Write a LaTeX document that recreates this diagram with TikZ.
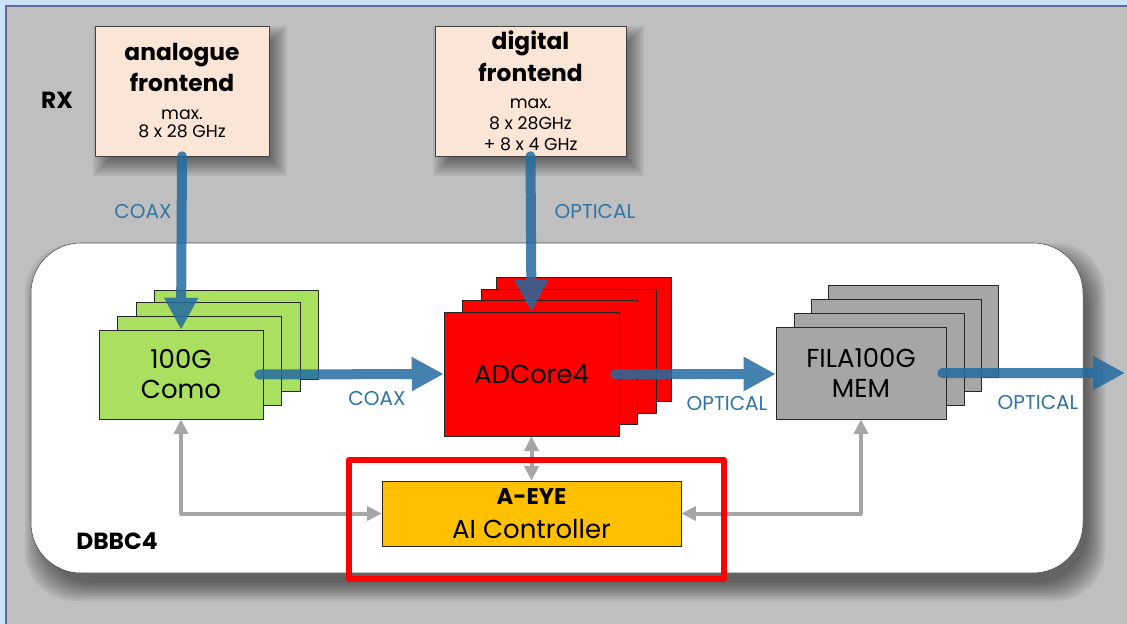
\documentclass[tikz,border=0pt]{standalone}
\usepackage{fontspec}
\setmainfont{Poppins}
\usetikzlibrary{arrows.meta}
\definecolor{frameblue}{RGB}{204,228,247}
\definecolor{pane}{RGB}{191,191,191}
\definecolor{peach}{RGB}{251,229,214}
\definecolor{lime}{RGB}{169,224,95}
\definecolor{memgrey}{RGB}{166,166,166}
\definecolor{amber}{RGB}{255,192,0}
\definecolor{linkblue}{RGB}{36,107,160}
\definecolor{tagblue}{RGB}{46,117,166}
\definecolor{ctrlgrey}{RGB}{166,166,166}
\newcommand{\headfont}{\bfseries\fontsize{17.5}{22.5}\selectfont}
\newcommand{\specfont}{\mdseries\fontsize{13}{15}\selectfont}
\newcommand{\softshadow}[5][]{%
  \foreach \i in {0,...,9}
    \fill[black,opacity=.06,#1] (#2+2*\i,#3+2*\i) rectangle (#4-2*\i,#5-2*\i);}
\begin{document}
\begin{tikzpicture}[x=0.75pt,y=-0.75pt,line join=round]
\tikzset{
  frontend/.style={draw=black!75,fill=peach,minimum height=97.5pt,inner sep=0pt,align=center},
  card/.style={draw=black!85,fill=#1,inner sep=0pt,align=center,font=\fontsize{19.5}{22.5}\selectfont},
  link/.style={draw=linkblue,line width=7.5pt,line cap=round,-{Triangle[length=24pt,width=24pt]}},
  ctrl/.style={draw=ctrlgrey,line width=3pt,{Triangle[length=11pt,width=10.5pt]}-{Triangle[length=11pt,width=10.5pt]}},
  tag/.style={text=tagblue,font=\fontsize{15}{17}\selectfont},
  title/.style={font=\headfont}
}
\useasboundingbox (0,0) rectangle (1127,624);
\fill[frameblue] (0,0) rectangle (1127,624);
\fill[pane] (6,6) rectangle (1127,624);
\draw[black!60!blue!60,line width=1pt] (6,624) -- (6,6) -- (1127,6);

\softshadow{93}{26}{287}{176}
\softshadow{433}{26}{644}{176}
\node[title] (rx) at (57,100) {RX};
\node[frontend,minimum width=130.5pt] (afe) at (182,91)
  {\headfont analogue\\[3.75pt]\headfont frontend\\[9pt]\specfont max.\\[1.5pt]\specfont 8 x 28 GHz};
\node[frontend,minimum width=143.25pt] (dfe) at (530.5,91)
  {\headfont digital\\[4.5pt]\headfont frontend\\[8.25pt]\specfont max.\\[3.75pt]\specfont 8 x 28GHz\\[3.75pt]\specfont + 8 x 4 GHz};

\softshadow[rounded corners=37.5pt]{25}{243}{1105}{601}
\draw[draw=black!70,fill=white,rounded corners=37.5pt] (31,243) rectangle (1083,573);
\node[title] (dbbc) at (117,541) {DBBC4};

\foreach \dx/\dy in {55/-40,37/-28,18/-14}
  \draw[draw=black!85,fill=lime] (99+\dx,330+\dy) rectangle (263+\dx,419+\dy);
\node[card=lime,minimum width=123pt,minimum height=66.75pt] (como) at (181,374.5) {100G\\Como};

\foreach \dx/\dy in {52/-35,37/-23,18/-12}
  \draw[draw=black!85,fill=red] (444+\dx,312+\dy) rectangle (619+\dx,436+\dy);
\node[card=red,minimum width=131.25pt,minimum height=93pt] (adc) at (531.5,374) {ADCore4};

\foreach \dx/\dy in {52/-42,35/-28,18/-14}
  \draw[draw=black!85,fill=memgrey] (776+\dx,327+\dy) rectangle (946+\dx,419+\dy);
\node[card=memgrey,minimum width=127.5pt,minimum height=69pt] (fila) at (861,373) {FILA100G\\MEM};

\node[card=amber,minimum width=224.25pt,minimum height=48.75pt] (aeye) at (531.5,513.5)
  {\bfseries\fontsize{17}{19}\selectfont A-EYE\\[3pt]\fontsize{19.5}{21}\selectfont AI Controller};

\coordinate (out) at (1125,373);
\begin{scope}[transparency group,opacity=.85]
\draw[link] (afe.south) -- (como.north);
\draw[link] (dfe.south) -- (adc.north);
\draw[link] ([xshift=-3pt]como.east) -- (adc.west);
\draw[link] ([xshift=-3pt]adc.east) -- (fila.west |- adc.east);
\draw[link] ([xshift=-3pt]fila.east) -- (out);
\end{scope}

\node[tag] (t1) at (143,212) {COAX};
\node[tag] (t2) at (595,212) {OPTICAL};
\node[tag] (t3) at (377,399) {COAX};
\node[tag] (t4) at (727,404) {OPTICAL};
\node[tag] (t5) at (1038,403) {OPTICAL};

\draw[ctrl] (como.south) |- (aeye.west);
\draw[ctrl] (adc.south) -- (aeye.north);
\draw[ctrl] (fila.south) |- (aeye.east);

\draw[red,line width=4.5pt] (349,460) rectangle (724,579);
\end{tikzpicture}
\end{document}
